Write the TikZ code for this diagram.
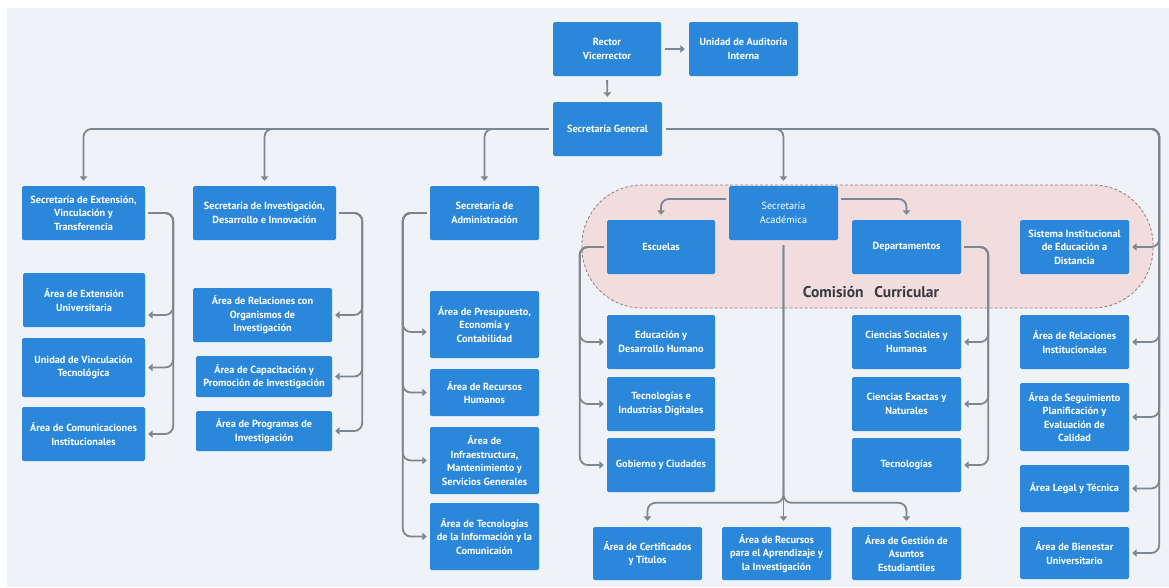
\documentclass[tikz,border=0pt]{standalone}
\usepackage{fontspec}
\setmainfont{PT Sans}
\usetikzlibrary{arrows.meta,calc}
\definecolor{boxblue}{RGB}{43,135,218}
\definecolor{conngrey}{RGB}{125,135,146}
\definecolor{bggrey}{RGB}{239,243,247}
\definecolor{regfill}{RGB}{241,221,221}
\definecolor{regline}{RGB}{160,120,126}
\definecolor{labgrey}{RGB}{52,57,66}
\tikzset{
  box/.style={fill=boxblue, text=white, font=\bfseries\fontsize{10.3}{13.5}\selectfont,
    align=center, inner sep=0pt, rounded corners=1.5pt},
  boxlight/.style={box, font=\fontsize{10.3}{13.5}\selectfont},
  conn/.style={draw=conngrey, line width=1.8pt, rounded corners=8pt,
    -{Triangle[length=4.5pt,width=7.5pt]}, shorten <=3pt, shorten >=3pt},
  region/.style={draw=regline, fill=regfill, dash pattern=on 3pt off 2pt,
    line width=0.8pt, rounded corners=60pt, inner sep=0pt},
}
\newcommand\orgbox[6][box]{\node[#1, minimum width=#4pt, minimum height=#5pt] (#2) at (#3) {#6};}
\begin{document}
\begin{tikzpicture}[x=1pt,y=-1pt]
\useasboundingbox (0,0) rectangle (1169,587);
\fill[white] (0,0) rectangle (1169,587);
\fill[bggrey] (7,8) rectangle (1169,587);

% Comision Curricular region
\node[region, minimum width=571pt, minimum height=123pt] (cc) at (867.5,246.5) {};
\node[font=\bfseries\fontsize{15.5}{18}\selectfont, text=labgrey] (ccl) at (871,292) {Comisión\hspace{0.7em}Curricular};

% top
\orgbox{rector}{607,49}{108}{54}{Rector\\Vicerrector}
\orgbox{audit}{743.5,49}{109}{54}{Unidad de Auditoría\\Interna}
\orgbox{sgen}{607.5,129}{109}{54}{Secretaría General}

% column 1
\orgbox{sext}{83.5,213}{123}{54}{Secretaría de Extensión,\\Vinculación y\\Transferencia}
\orgbox{aext}{84,300}{122}{54}{Área de Extensión\\Universitaria}
\orgbox{uvt}{83.5,367.5}{123}{59}{Unidad de Vinculación\\Tecnológica}
\orgbox{aci}{83.5,434}{123}{54}{Área de Comunicaciones\\Institucionales}

% column 2
\orgbox{sinv}{264.5,213}{143}{54}{Secretaría de Investigación,\\Desarrollo e Innovación}
\orgbox{aro}{262.5,315}{139}{54}{Área de Relaciones con\\Organismos de\\Investigación}
\orgbox{acp}{264,376.5}{136}{41}{Área de Capacitación y\\Promoción de Investigación}
\orgbox{apr}{264,431}{136}{40}{Área de Programas de\\Investigación}

% column 3
\orgbox{sadm}{484.5,213}{109}{54}{Secretaría de\\Administración}
\orgbox{apres}{484.5,324.5}{109}{67}{Área de Presupuesto,\\Economía y\\Contabilidad}
\orgbox{arh}{484.5,392.5}{109}{47}{Área de Recursos\\Humanos}
\orgbox{ainf}{484.5,460.5}{109}{67}{Área de\\Infraestructura,\\Mantenimiento y\\Servicios Generales}
\orgbox{atic}{484.5,536.5}{109}{67}{Área de Tecnologías\\de la Información y la\\Comunicaión}

% academica
\orgbox{esc}{661,247}{108}{54}{Escuelas}
\orgbox{edu}{661,342}{108}{54}{Educación y\\Desarrollo Humano}
\orgbox{tid}{661,404}{108}{54}{Tecnologías e\\Industrias Digitales}
\orgbox{gob}{661,465}{108}{54}{Gobierno y Ciudades}
\orgbox[boxlight]{sacad}{783.5,213}{109}{54}{Secretaría\\Académica}
\orgbox{dep}{906.5,247}{109}{54}{Departamentos}
\orgbox{csh}{906.5,342}{109}{54}{Ciencias Sociales y\\Humanas}
\orgbox{cen}{906.5,404}{109}{54}{Ciencias Exactas y\\Naturales}
\orgbox{tec}{906.5,465}{109}{54}{Tecnologías}
\orgbox{cert}{647.5,553.5}{109}{53}{Área de Certificados\\y Títulos}
\orgbox{arec}{776.5,553.5}{109}{53}{Área de Recursos\\para el Aprendizaje y\\la Investigación}
\orgbox{agest}{906.5,553.5}{109}{53}{Área de Gestión de\\Asuntos\\Estudiantiles}

% right column
\orgbox{sied}{1074.5,247}{109}{54}{Sistema Institucional\\de Educación a\\Distancia}
\orgbox{ari}{1074.5,342}{109}{54}{Área de Relaciones\\Institucionales}
\orgbox{aseg}{1074.5,417}{109}{68}{Área de Seguimiento\\Planificación y\\Evaluación de\\Calidad}
\orgbox{aleg}{1074.5,488.5}{109}{47}{Área Legal y Técnica}
\orgbox{abien}{1074.5,553}{109}{52}{Área de Bienestar\\Universitario}

% connectors: top
\draw[conn, shorten <=4pt, shorten >=4pt] (rector.east) -- (audit.west);
\draw[conn, shorten <=4pt, shorten >=5pt] (rector.south) -- (sgen.north);
\foreach \t in {sext,sinv,sadm}
  \draw[conn, shorten <=4pt, shorten >=5pt] (sgen.west) -| (\t.north);
\draw[conn, shorten <=4pt, shorten >=5pt] (sgen.east) -| (sacad.north);
\foreach \t in {sied,ari,aseg,aleg,abien}
  \draw[conn, shorten <=4pt] (sgen.east) -| ([xshift=30pt]\t.east) -- (\t.east);

% column 1
\draw[conn] (sext.east) -- ([xshift=28pt]sext.east) |- ([yshift=-15pt]aext.east);
\foreach \t in {uvt,aci}
  \draw[conn] (sext.east) -- ([xshift=28pt]sext.east) |- (\t.east);
% column 2
\foreach \t in {aro,acp,apr}
  \draw[conn] (sinv.east) -- ([xshift=26pt]sinv.east) |- (\t.east);
% column 3
\draw[conn] (sadm.west) -- ([xshift=-27pt]sadm.west) |- ([yshift=-7.5pt]apres.west);
\foreach \t in {arh,ainf,atic}
  \draw[conn] (sadm.west) -- ([xshift=-27pt]sadm.west) |- (\t.west);
% escuelas
\foreach \t in {edu,tid,gob}
  \draw[conn] (esc.west) -- ([xshift=-27pt]esc.west) |- (\t.west);
% departamentos
\foreach \t in {csh,cen,tec}
  \draw[conn] (dep.east) -- ([xshift=27pt]dep.east) |- (\t.east);
% academica
\draw[conn, shorten >=5pt] ([yshift=14pt]sacad.west) -| (esc.north);
\draw[conn, shorten >=5pt] ([yshift=14pt]sacad.east) -| (dep.north);
\draw[conn, shorten <=5pt, shorten >=6pt] (sacad.south) |- ([yshift=24pt]cert.north) -- (cert.north);
\draw[conn, shorten <=5pt, shorten >=6pt] (sacad.south) -- (sacad.south |- arec.north);
\draw[conn, shorten <=5pt, shorten >=6pt] (sacad.south) |- ([yshift=24pt]agest.north) -- (agest.north);
\end{tikzpicture}
\end{document}
